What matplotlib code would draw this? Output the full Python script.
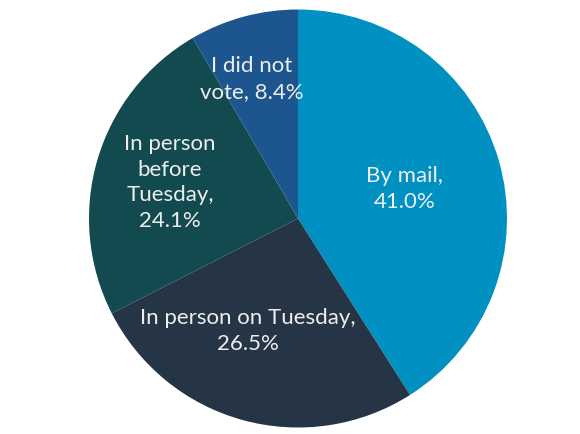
import matplotlib
matplotlib.use("Agg")
import matplotlib.pyplot as plt

labels = ["By mail,\n41.0%", "In person on Tuesday,\n26.5%",
          "In person\nbefore\nTuesday,\n24.1%", "I did not\nvote, 8.4%"]
shares = [41.0, 26.5, 24.1, 8.4]
colors = ["#0090c1", "#263545", "#124a4f", "#1d568f"]

# label centres, in units of the pie radius
label_pos = [(0.51, 0.146), (-0.24, -0.533), (-0.612, 0.177), (-0.22, 0.672)]

fig = plt.figure(figsize=(5.8, 4.35), dpi=100)
ax = fig.add_axes([89 / 580, 6.5 / 435, 418 / 580, 418 / 435])
ax.pie(shares, colors=colors, startangle=90, counterclock=False, radius=1,
       wedgeprops=dict(linewidth=0))
ax.set_xlim(-1, 1)
ax.set_ylim(-1, 1)
ax.set_aspect("equal")
ax.axis("off")

for txt, (x, y) in zip(labels, label_pos):
    ax.text(x, y, txt, ha="center", va="center", color="#eeeeee",
            fontsize=16, family="Lato", linespacing=1.35)

fig.savefig("out.png", dpi=100)
